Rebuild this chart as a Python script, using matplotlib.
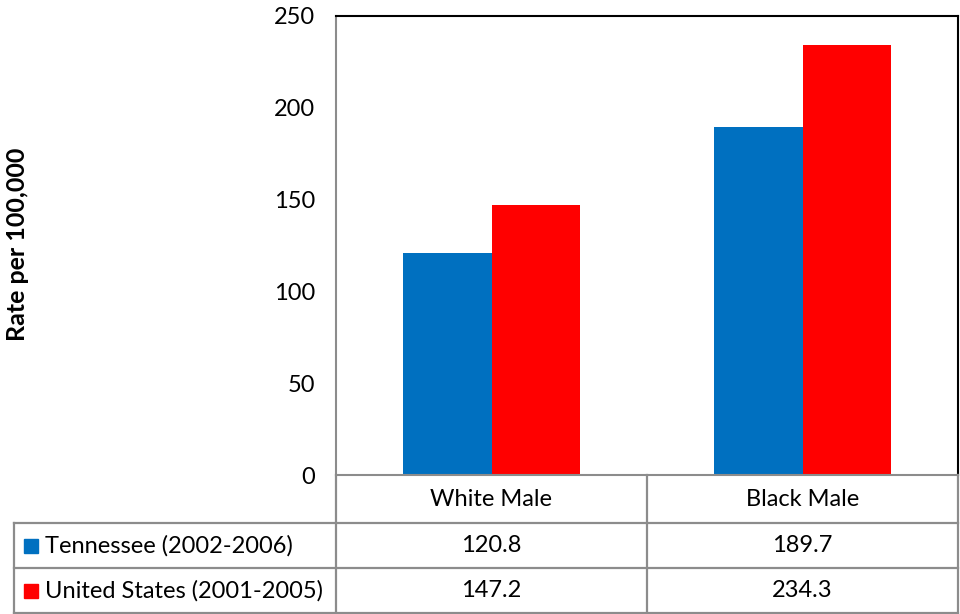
import matplotlib
matplotlib.use("Agg")
import matplotlib.pyplot as plt
from matplotlib.patches import Rectangle

CATEGORIES = ["White Male", "Black Male"]
SERIES = ["Tennessee (2002-2006)", "United States (2001-2005)"]
TENNESSEE = [120.8, 189.7]
UNITED_STATES = [147.2, 234.3]
COLORS = ["#0070C0", "#FF0000"]
YTICKS = [0, 50, 100, 150, 200, 250]
YLABEL = "Rate per 100,000"

W, H = 960, 614
FONT = "Lato"
FS = 17
GRID = "#8c8c8c"

fig = plt.figure(figsize=(W / 100, H / 100), dpi=100)


def fx(px):
    return px / W


def fy(py):
    return 1 - py / H


# plot area
ax = fig.add_axes([fx(336), fy(475), fx(958) - fx(336), fy(16) - fy(475)])
values = [TENNESSEE, UNITED_STATES]
bw = 0.286
for j, (vals, col) in enumerate(zip(values, COLORS)):
    xs = [i + (j - 0.5) * bw for i in range(len(CATEGORIES))]
    ax.bar(xs, vals, width=bw, color=col, edgecolor="none")
ax.set_xlim(-0.5, len(CATEGORIES) - 0.5)
ax.set_ylim(0, 250)
ax.set_yticks(YTICKS)
ax.set_yticklabels([str(t) for t in YTICKS], fontfamily=FONT, fontsize=FS)
ax.tick_params(axis="y", length=0, pad=15)
ax.set_xticks([])
ax.spines["left"].set_color(GRID)
ax.spines["left"].set_linewidth(1.5)
ax.spines["bottom"].set_color(GRID)
ax.spines["bottom"].set_linewidth(1.5)
for s in ("top", "right"):
    ax.spines[s].set_color("black")
    ax.spines[s].set_linewidth(1.5)

fig.text(fx(18), fy(244), YLABEL, rotation=90, ha="center", va="center",
         fontfamily=FONT, fontsize=18, fontweight="bold")

# data table underneath
cols = [14, 336, 647, 958]
rows = [475, 523, 568, 613]
lk = dict(color=GRID, lw=1.6, transform=fig.transFigure)
for r in rows[1:]:
    fig.add_artist(plt.Line2D([fx(14), fx(958)], [fy(r), fy(r)], **lk))
for c in cols[1:]:
    fig.add_artist(plt.Line2D([fx(c), fx(c)], [fy(475), fy(613)], **lk))
fig.add_artist(plt.Line2D([fx(14), fx(14)], [fy(523), fy(613)], **lk))

for i, cat in enumerate(CATEGORIES):
    cx = (cols[i + 1] + cols[i + 2]) / 2
    fig.text(fx(cx), fy((rows[0] + rows[1]) / 2), cat, ha="center", va="center",
             fontfamily=FONT, fontsize=FS)
for k, (name, vals, col) in enumerate(zip(SERIES, values, COLORS)):
    cy = (rows[k + 1] + rows[k + 2]) / 2
    fig.add_artist(Rectangle((fx(24), fy(cy + 7)), fx(14), 14 / H, color=col,
                             transform=fig.transFigure))
    fig.text(fx(45), fy(cy), name, ha="left", va="center", fontfamily=FONT, fontsize=FS)
    for i, v in enumerate(vals):
        cx = (cols[i + 1] + cols[i + 2]) / 2
        fig.text(fx(cx), fy(cy), f"{v:.1f}", ha="center", va="center",
                 fontfamily=FONT, fontsize=FS)

fig.savefig("out.png", dpi=100)
